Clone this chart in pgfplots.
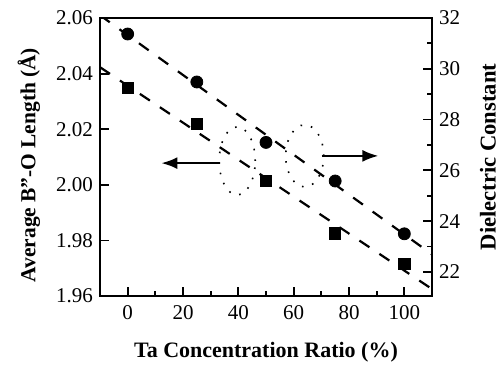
\documentclass[border=0pt]{standalone}
\usepackage{pgfplots}
\pgfplotsset{compat=1.18}
\usetikzlibrary{arrows.meta}
\usepackage{fontspec}
\setmainfont{Liberation Serif}
\begin{document}
\begin{tikzpicture}
\useasboundingbox (-50pt,-35pt) rectangle (201.5pt,148pt);
\pgfplotsset{
  common/.style={
    at={(0,0)}, anchor=south west, scale only axis,
    width=166pt, height=139pt,
    xmin=-10, xmax=110,
    tick align=inside,
    major tick length=4.5pt, minor tick length=2.5pt,
    every tick/.style={black, line width=0.9pt},
    axis line style={line width=1.1pt},
    /pgf/number format/assume math mode=true,
    ticklabel style={font=\fontsize{10.5}{12}\selectfont},
  }
}
\begin{axis}[common,
  ymin=1.96, ymax=2.06,
  tick pos=left,
  xtick={0,20,40,60,80,100}, minor xtick={10,30,50,70,90},
  ytick={1.96,1.98,2.00,2.02,2.04,2.06},
  yticklabel style={/pgf/number format/.cd, fixed, fixed zerofill, precision=2},
  every axis x label/.style={at={(axis description cs:0.5,-0.2014)}, anchor=center, font=\fontsize{11}{13}\selectfont},
  every axis y label/.style={at={(axis description cs:-0.214,0.471)}, rotate=90, anchor=center, font=\fontsize{10.7}{13}\selectfont},
  xlabel={\textbf{Ta Concentration Ratio (\%)}},
  ylabel={\textbf{Average B''-O Length (Å)}},
  xticklabel style={yshift=-1pt},
]
\addplot[black, line width=1.1pt, dash pattern=on 6pt off 6pt] coordinates {(-10,2.0423) (110,1.9625)};
\addplot[only marks, mark=square*, mark size=2.8pt, black] coordinates {
  (0,2.0348) (25,2.0219) (50,2.0014) (75,1.9825) (100,1.9715)};
\draw[black, line width=0.8pt, dash pattern=on 0.8pt off 4.5pt] (axis cs:39.6,2.0086) ellipse [x radius=9pt, y radius=17pt];
\draw[black, line width=0.8pt, dash pattern=on 0.8pt off 4.5pt] (axis cs:64,2.0104) ellipse [x radius=9.5pt, y radius=15.5pt];
\draw[black, line width=1pt, -{Latex[length=8pt,width=6pt]}] (axis cs:33.1,2.0078) -- (axis cs:12.2,2.0078);
\draw[black, line width=1pt, -{Latex[length=8pt,width=6pt]}] (axis cs:70.1,2.0104) -- (axis cs:90.6,2.0104);
\end{axis}
\begin{axis}[common,
  ymin=21.05, ymax=32,
  axis x line=none, axis y line*=right,
  ytick={22,24,26,28,30,32}, minor ytick={23,25,27,29,31},
  every axis y label/.style={at={(axis description cs:1.1687,0.5)}, rotate=90, anchor=center, font=\fontsize{11.3}{13}\selectfont},
  ylabel={\textbf{Dielectric Constant}},
]
\addplot[black, line width=1.1pt, dash pattern=on 6pt off 6pt] coordinates {(-10,32.11) (110,22.69)};
\addplot[only marks, mark=*, mark size=3pt, black] coordinates {
  (0,31.37) (25,29.48) (50,27.10) (75,25.58) (100,23.5)};
\end{axis}
\end{tikzpicture}
\end{document}
